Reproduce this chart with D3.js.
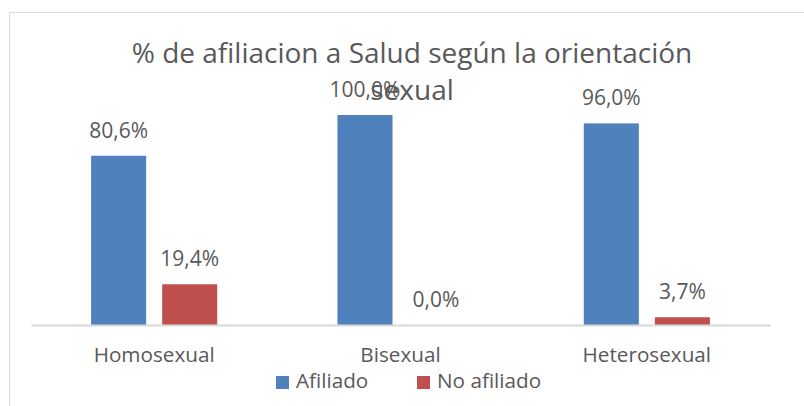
<!DOCTYPE html>
<html>
<head>
<meta charset="utf-8">
<script src="https://cdn.jsdelivr.net/npm/d3@7"></script>
<style>
  body { margin: 0; background: #fff; }
  text { font-family: "Open Sans", "Noto Sans", sans-serif; fill: #595959; }
</style>
</head>
<body>
<div id="chart"></div>
<script>
var categories = ["Homosexual", "Bisexual", "Heterosexual"];
var seriesNames = ["Afiliado", "No afiliado"];
var afiliado = [80.6, 100.0, 96.0];
var noAfiliado = [19.4, 0.0, 3.7];
var titleLines = ["% de afiliacion a Salud según la orientación", "sexual"];

var colors = ["#4F81BD", "#C0504D"];
var fullWidth = 804, fullHeight = 406;

var data = categories.map(function(c, i) {
    return {cat: c, values: [afiliado[i], noAfiliado[i]]};
});

var svg = d3.select("#chart").append("svg")
    .attr("width", fullWidth)
    .attr("height", fullHeight);

// chart frame (runs off the right/bottom edge like the original)
svg.append("rect")
    .attr("x", 9.5).attr("y", 12.5)
    .attr("width", 820).attr("height", 420)
    .attr("fill", "#fff")
    .attr("stroke", "#D9D9D9");

var baseY = 325;
var catScale = d3.scaleBand()
    .domain(categories)
    .range([31, 770]);
var bw = catScale.bandwidth();

var serScale = d3.scaleBand()
    .domain(seriesNames)
    .range([bw * 0.244, bw * 0.756])
    .paddingInner(0.225);

var yScale = d3.scaleLinear()
    .domain([0, 100])
    .range([baseY, 115]);

// bars
var groups = svg.append("g").selectAll("g.grp")
    .data(data)
  .enter().append("g")
    .attr("transform", function(d) { return "translate(" + catScale(d.cat) + ",0)"; });

groups.selectAll("rect")
    .data(function(d) { return d.values.map(function(v, j) { return {v: v, s: seriesNames[j], j: j}; }); })
  .enter().append("rect")
    .attr("x", function(d) { return serScale(d.s); })
    .attr("width", serScale.bandwidth())
    .attr("y", function(d) { return yScale(d.v); })
    .attr("height", function(d) { return baseY - yScale(d.v); })
    .attr("fill", function(d) { return colors[d.j]; });

// value labels
groups.selectAll("text.val")
    .data(function(d) { return d.values.map(function(v, j) { return {v: v, s: seriesNames[j]}; }); })
  .enter().append("text")
    .attr("class", "val")
    .attr("x", function(d) { return serScale(d.s) + serScale.bandwidth() / 2; })
    .attr("y", function(d) { return yScale(d.v) - 18; })
    .attr("text-anchor", "middle")
    .style("font-size", "21px")
    .text(function(d) { return d3.format(".1f")(d.v).replace(".", ",") + "%"; });

// x axis
var xAxis = d3.axisBottom(catScale).tickSize(0).tickPadding(22);
var xg = svg.append("g")
    .attr("transform", "translate(0," + baseY + ")")
    .call(xAxis);
xg.select(".domain").attr("stroke", "#D9D9D9").attr("stroke-width", 2);
xg.selectAll("text")
    .style("font-size", "20.7px")
    .attr("fill", "#595959")
    .style("font-family", "'Open Sans', sans-serif");

// title
var title = svg.append("text")
    .attr("text-anchor", "middle")
    .style("font-size", "28px");
title.selectAll("tspan")
    .data(titleLines)
  .enter().append("tspan")
    .attr("x", 412)
    .attr("y", function(d, i) { return 63 + i * 37; })
    .text(function(d) { return d; });

// legend
var legendX = [276, 417];
var legend = svg.append("g").selectAll("g")
    .data(seriesNames)
  .enter().append("g")
    .attr("transform", function(d, i) { return "translate(" + legendX[i] + ",376)"; });
legend.append("rect")
    .attr("width", 13).attr("height", 13)
    .attr("fill", function(d, i) { return colors[i]; });
legend.append("text")
    .attr("x", 20).attr("y", 12)
    .style("font-size", "20.7px")
    .text(function(d) { return d; });
</script>
</body>
</html>
